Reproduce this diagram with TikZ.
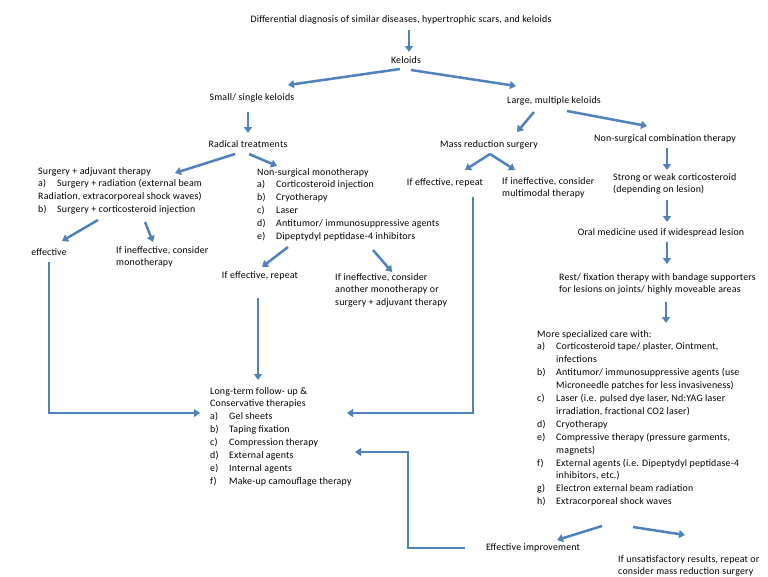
\documentclass[tikz,border=0pt]{standalone}
\usepackage{fontspec}
\setmainfont{Carlito}[LetterSpace=2]
\usetikzlibrary{arrows.meta}
\definecolor{flowblue}{RGB}{79,129,189}
\newcommand{\itemlab}[1]{\makebox[19pt][l]{#1}}

\begin{document}
\begin{tikzpicture}[x=1pt,y=-1pt,
  txt/.style={inner sep=0pt,font=\fontsize{9.9}{12.9}\selectfont,text height=7pt,text depth=2pt},
  lst/.style={inner sep=0pt,font=\fontsize{9.9}{12.9}\selectfont,align=left,anchor=north west},
  flow/.style={draw=flowblue,line width=2.5pt,-{Triangle[length=6pt,width=8pt]}}]

\useasboundingbox (0,0) rectangle (768,576);

% top of the tree
\node[txt] (title) at (401,20) {Differential diagnosis of similar diseases, hypertrophic scars, and keloids};
\node[txt] (keloids) at (406,61) {Keloids};
\node[txt] (small) at (252,98) {Small/ single keloids};
\node[txt] (large) at (554,101) {Large, multiple keloids};
\node[txt] (radical) at (248,145) {Radical treatments};
\node[txt] (mass) at (489,145) {Mass reduction surgery};
\node[txt] (combo) at (665,139) {Non-surgical combination therapy};

% left branch
\node[lst] (surgadj) at (38,167) {Surgery + adjuvant therapy\\
  \itemlab{a)}Surgery + radiation (external beam\\
  Radiation, extracorporeal shock waves)\\
  \itemlab{b)}Surgery + corticosteroid injection};
\node[lst] (nonsurg) at (257,168) {Non-surgical monotherapy\\
  \itemlab{a)}Corticosteroid injection\\
  \itemlab{b)}Cryotherapy\\
  \itemlab{c)}Laser\\
  \itemlab{d)}Antitumor/ immunosuppressive agents\\
  \itemlab{e)}Dipeptydyl peptidase-4 inhibitors};
\node[txt] (effective) at (49,253) {effective};
\node[lst] (surgineff) at (116,246) {If ineffective, consider\\ monotherapy};
\node[txt] (monoeff) at (260,276) {If effective, repeat};
\node[lst] (monoineff) at (335,273) {If ineffective, consider\\ another monotherapy or\\ surgery + adjuvant therapy};

% middle branch
\node[txt] (masseff) at (445,183) {If effective, repeat};
\node[lst] (massineff) at (502,177) {If ineffective, consider\\ multimodal therapy};

% right branch
\node[lst] (strong) at (613,173) {Strong or weak corticosteroid\\ (depending on lesion)};
\node[txt] (oral) at (661,233) {Oral medicine used if widespread lesion};
\node[lst] (rest) at (559,273) {Rest/ fixation therapy with bandage supporters\\ for lesions on joints/ highly moveable areas};
\node[lst] (special) at (537,330) {More specialized care with:\\
  \itemlab{a)}Corticosteroid tape/ plaster, Ointment,\\
  \hspace*{19pt}infections\\
  \itemlab{b)}Antitumor/ immunosuppressive agents (use\\
  \hspace*{19pt}Microneedle patches for less invasiveness)\\
  \itemlab{c)}Laser (i.e. pulsed dye laser, Nd:YAG laser\\
  \hspace*{19pt}irradiation, fractional CO2 laser)\\
  \itemlab{d)}Cryotherapy\\
  \itemlab{e)}Compressive therapy (pressure garments,\\
  \hspace*{19pt}magnets)\\
  \itemlab{f)}External agents (i.e. Dipeptydyl peptidase-4\\
  \hspace*{19pt}inhibitors, etc.)\\
  \itemlab{g)}Electron external beam radiation\\
  \itemlab{h)}Extracorporeal shock waves};
\node[txt] (improve) at (533,548) {Effective improvement};
\node[lst] (unsat) at (618,555) {If unsatisfactory results, repeat or\\ consider mass reduction surgery};

% follow-up
\node[lst] (longterm) at (210,387) {Long-term follow- up \&\\
  Conservative therapies\\
  \itemlab{a)}Gel sheets\\
  \itemlab{b)}Taping fixation\\
  \itemlab{c)}Compression therapy\\
  \itemlab{d)}External agents\\
  \itemlab{e)}Internal agents\\
  \itemlab{f)}Make-up camouflage therapy};

% arrows
\draw[flow] ([xshift=8pt,yshift=-10pt]title.center) -- ([xshift=3pt,yshift=9pt]keloids.center);
\draw[flow] ([xshift=-6pt,yshift=-8pt]keloids.center) -- ([xshift=36pt,yshift=13pt]small.center);
\draw[flow] ([xshift=5pt,yshift=-9pt]keloids.center) -- ([xshift=-38pt,yshift=15pt]large.center);
\draw[flow] ([xshift=-4pt,yshift=-14pt]small.center) -- ([yshift=12pt]radical.center);
\draw[flow] ([xshift=-13pt,yshift=-9pt]radical.center) -- ([xshift=137pt,yshift=-6pt]surgadj.north west);
\draw[flow] ([xshift=1pt,yshift=-9pt]radical.center) -- ([xshift=20pt,yshift=2pt]nonsurg.north west);
\draw[flow] ([xshift=-20pt,yshift=-11pt]large.center) -- ([xshift=28pt,yshift=13pt]mass.center);
\draw[flow] ([xshift=13pt,yshift=-10pt]large.center) -- ([xshift=-18pt,yshift=13pt]combo.center);
\draw[flow] ([xshift=1pt,yshift=-9pt]mass.center) -- ([xshift=20pt,yshift=13pt]masseff.center);
\draw[flow] ([xshift=1pt,yshift=-9pt]mass.center) -- ([xshift=13pt,yshift=7pt]massineff.north west);
\draw[flow] ([xshift=2pt,yshift=-9pt]combo.center) -- ([xshift=54pt,yshift=3pt]strong.north west);
\draw[flow] ([xshift=54pt,yshift=-27pt]strong.north west) -- ([xshift=6pt,yshift=11pt]oral.center);
\draw[flow] ([xshift=6pt,yshift=-9pt]oral.center) -- ([xshift=108pt,yshift=9pt]rest.north west);
\draw[flow] ([xshift=107pt,yshift=-29pt]rest.north west) -- ([xshift=129pt,yshift=7pt]special.north west);
\draw[flow] ([xshift=60pt,yshift=-53pt]surgadj.north west) -- ([xshift=13pt,yshift=12pt]effective.center);
\draw[flow] ([xshift=107pt,yshift=-55pt]surgadj.north west) -- ([xshift=37pt,yshift=4pt]surgineff.north west);
\draw[flow] ([xshift=31pt,yshift=-79pt]nonsurg.north west) -- ([xshift=2pt,yshift=9pt]monoeff.center);
\draw[flow] ([xshift=116pt,yshift=-82pt]nonsurg.north west) -- ([xshift=57pt,yshift=1pt]monoineff.north west);
\draw[flow] ([xshift=-2pt,yshift=-22pt]monoeff.center) -- ([xshift=48pt,yshift=7pt]longterm.north west);
\draw[flow] ([yshift=-9pt]effective.center) |- ([xshift=-10pt,yshift=-26pt]longterm.north west);
\draw[flow] ([xshift=28pt,yshift=-14pt]masseff.center) |- ([xshift=137pt,yshift=-26pt]longterm.north west);
\draw[flow] ([xshift=65pt,yshift=-196pt]special.north west) -- ([xshift=24pt,yshift=8pt]improve.center);
\draw[flow] ([xshift=96pt,yshift=-197pt]special.north west) -- ([xshift=67pt,yshift=20pt]unsat.north west);
\draw[flow] ([xshift=-68pt]improve.center) -- ([xshift=-125pt]improve.center) |- ([xshift=145pt,yshift=-65pt]longterm.north west);

\end{tikzpicture}
\end{document}
